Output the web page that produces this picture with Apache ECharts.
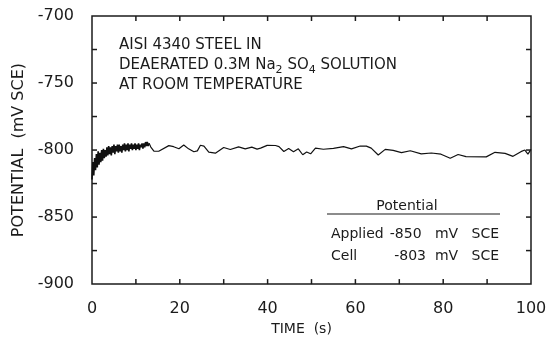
<!DOCTYPE html>
<html>
<head>
<meta charset="utf-8">
<script src="https://cdn.jsdelivr.net/npm/echarts@6/dist/echarts.min.js"></script>
<style>
  html, body { margin: 0; padding: 0; background: #fff; }
  #chart { width: 551px; height: 341px; }
</style>
</head>
<body>
<div id="chart"></div>
<script>
// Open-circuit potential transient of AISI 4340 steel, 0-100 s.

// Early, rapidly fluctuating record (0-13 s)
const noiseTime = [
  0.0, 0.2, 0.4, 0.6, 0.8, 1.0, 1.2, 1.4, 1.6, 1.8,
  2.0, 2.2, 2.4, 2.6, 2.8, 3.0, 3.2, 3.4, 3.6, 3.8,
  4.0, 4.2, 4.4, 4.6, 4.8, 5.0, 5.2, 5.4, 5.6, 5.8,
  6.0, 6.2, 6.4, 6.6, 6.8, 7.0, 7.2, 7.4, 7.6, 7.8,
  8.0, 8.2, 8.4, 8.6, 8.8, 9.0, 9.2, 9.4, 9.6, 9.8,
  10.0, 10.2, 10.4, 10.6, 10.8, 11.0, 11.2, 11.4, 11.6, 11.8,
  12.0, 12.2, 12.4, 12.6, 12.8, 13.0
];
const noisePotential = [
  -822, -809, -819, -806, -815, -803, -813, -801, -811, -802,
  -809, -800, -808, -799, -806, -800, -805, -798, -804, -797,
  -803, -798, -804, -797, -802, -796, -803, -797, -801, -796,
  -802, -796, -801, -797, -802, -796, -800, -795, -801, -796,
  -800, -795, -801, -796, -799, -795, -800, -796, -799, -795,
  -800, -796, -799, -795, -800, -796, -798, -795, -799, -795,
  -798, -794, -797, -794, -797, -795
];

// Later, slowly wandering record (13-100 s)
const waveTime = [
  13.4, 14.1, 15.2, 17.5, 18.6, 19.8, 20.9, 22.0, 23.2, 24.0,
  24.7, 25.5, 26.6, 28.1, 30.0, 31.5, 33.4, 34.9, 36.4, 37.6,
  38.4, 39.9, 41.8, 42.6, 43.7, 44.8, 45.9, 47.0, 48.0, 48.9,
  49.8, 50.9, 52.7, 55.0, 57.3, 59.1, 61.1, 62.5, 63.6, 65.2,
  66.8, 68.6, 70.5, 72.5, 75.0, 77.3, 79.5, 81.6, 83.4, 85.2,
  89.8, 91.8, 94.1, 95.9, 97.7, 98.6, 99.3, 100.0
];
const wavePotential = [
  -797.8, -800.8, -800.9, -796.7, -797.5, -799.0, -796.2, -799.1, -801.3, -800.6,
  -796.4, -797.1, -801.5, -802.3, -798.1, -799.6, -797.6, -799.1, -797.8, -799.3,
  -798.6, -796.5, -796.6, -797.4, -801.1, -798.9, -801.2, -799.1, -803.5, -801.4,
  -802.8, -798.6, -799.4, -798.8, -797.5, -799.1, -797.0, -797.1, -798.6, -803.7,
  -799.5, -800.3, -801.9, -800.5, -802.8, -802.2, -803.1, -806.1, -803.3, -804.9,
  -805.1, -801.7, -802.5, -804.7, -801.2, -800.0, -803.0, -799.5
];

// Axis tick labels and tick-mark positions
const xTickLabels = [0, 20, 40, 60, 80, 100];
const yTickLabels = [-900, -850, -800, -750, -700];
const xTickMarks = [10, 20, 30, 40, 50, 60, 70, 80, 90];
const yTickMarks = [-875, -850, -825, -800, -775, -750, -725];

// Condition notes and potential table
const conditionLines = ['AISI 4340 STEEL IN', 'DEAERATED 0.3M Na2 SO4 SOLUTION', 'AT ROOM TEMPERATURE'];
const tableTitle = 'Potential';
const potentialRows = [['Applied', '-850   mV   SCE'], ['Cell', '-803  mV   SCE']];

const X_MIN = 0, X_MAX = 100, Y_MIN = -900, Y_MAX = -700;

const noisePoints = noiseTime.map((t, i) => [t, noisePotential[i]]);
const wavePoints = [[noiseTime[noiseTime.length - 1], noisePotential[noisePotential.length - 1]]]
  .concat(waveTime.map((t, i) => [t, wavePotential[i]]));

const ink = '#1b1b1b';
const font = 'DejaVu Sans';
const noteFont = '15px "' + font + '"';
const tableFont = '14px "' + font + '"';

const chart = echarts.init(document.getElementById('chart'), null, { renderer: 'canvas' });

// Inward tick marks on all four sides of the frame, placed through the axes' scales
const tickMarkSeries = {
  type: 'custom', xAxisIndex: 0, yAxisIndex: 0, silent: true, z: 6, clip: false,
  data: [0],
  renderItem: function (params, api) {
    const len = 5;
    const children = [];
    const style = { stroke: ink, lineWidth: 1.5 };
    xTickMarks.forEach(function (v) {
      const b = api.coord([v, Y_MIN]);
      const t = api.coord([v, Y_MAX]);
      children.push({ type: 'line', shape: { x1: b[0], y1: b[1], x2: b[0], y2: b[1] - len }, style: style });
      children.push({ type: 'line', shape: { x1: t[0], y1: t[1], x2: t[0], y2: t[1] + len }, style: style });
    });
    yTickMarks.forEach(function (v) {
      const l = api.coord([X_MIN, v]);
      const r = api.coord([X_MAX, v]);
      children.push({ type: 'line', shape: { x1: l[0], y1: l[1], x2: l[0] + len, y2: l[1] }, style: style });
      children.push({ type: 'line', shape: { x1: r[0], y1: r[1], x2: r[0] - len, y2: r[1] }, style: style });
    });
    return { type: 'group', children: children };
  }
};

// Second note line carries the Na2SO4 subscripts
const richLine2 = '{n|DEAERATED 0.3M Na}{s|2}{n| SO}{s|4}{n| SOLUTION}';

const graphics = [
  { type: 'text', x: 119, y: 38, style: { text: conditionLines[0], font: noteFont, fill: ink } },
  {
    type: 'text', x: 119, y: 58,
    style: {
      text: richLine2, fill: ink,
      rich: {
        n: { fontFamily: font, fontSize: 15, color: ink, verticalAlign: 'top', lineHeight: 22 },
        s: { fontFamily: font, fontSize: 11, color: ink, verticalAlign: 'top', lineHeight: 22, padding: [7, 0, 0, 0] }
      }
    }
  },
  { type: 'text', x: 119, y: 78, style: { text: conditionLines[2], font: noteFont, fill: ink } },
  { type: 'text', x: 407, y: 199, style: { text: tableTitle, font: tableFont, fill: ink, textAlign: 'center' } },
  {
    type: 'line',
    shape: { x1: 327, y1: 214, x2: 500, y2: 214 },
    style: { stroke: ink, lineWidth: 1.2 }
  },
  { type: 'text', x: 331, y: 227, style: { text: potentialRows[0][0], font: tableFont, fill: ink } },
  { type: 'text', x: 499, y: 227, style: { text: potentialRows[0][1], font: tableFont, fill: ink, textAlign: 'right' } },
  { type: 'text', x: 331, y: 249, style: { text: potentialRows[1][0], font: tableFont, fill: ink } },
  { type: 'text', x: 499, y: 249, style: { text: potentialRows[1][1], font: tableFont, fill: ink, textAlign: 'right' } }
];

const option = {
  animation: false,
  backgroundColor: '#ffffff',
  grid: {
    left: 92, right: 20, top: 16, bottom: 47,
    show: true, borderColor: ink, borderWidth: 1.5, backgroundColor: 'transparent'
  },
  xAxis: [
    {
      type: 'value', min: X_MIN, max: X_MAX, interval: 10, position: 'bottom',
      name: 'TIME  (s)', nameLocation: 'middle', nameGap: 28,
      nameTextStyle: { fontFamily: font, fontSize: 14, color: ink, padding: [0, 20, 0, 0] },
      axisLine: { show: false }, axisTick: { show: false }, splitLine: { show: false },
      axisLabel: {
        margin: 17, fontFamily: font, fontSize: 16, color: ink,
        formatter: v => xTickLabels.includes(v) ? String(v) : ''
      }
    }
  ],
  yAxis: [
    {
      type: 'value', min: Y_MIN, max: Y_MAX, interval: 25, position: 'left',
      name: 'POTENTIAL  (mV SCE)', nameLocation: 'middle', nameGap: 65,
      nameTextStyle: { fontFamily: font, fontSize: 16, color: ink },
      axisLine: { show: false }, axisTick: { show: false }, splitLine: { show: false },
      axisLabel: {
        margin: 18, fontFamily: font, fontSize: 16, color: ink,
        formatter: v => yTickLabels.includes(v) ? String(v) : ''
      }
    }
  ],
  series: [
    {
      name: 'early', type: 'line', xAxisIndex: 0, yAxisIndex: 0,
      data: noisePoints, showSymbol: false, symbol: 'none',
      lineStyle: { color: '#111', width: 1.6 }
    },
    {
      name: 'late', type: 'line', xAxisIndex: 0, yAxisIndex: 0,
      data: wavePoints, showSymbol: false, symbol: 'none',
      lineStyle: { color: '#111', width: 1.2 }
    },
    tickMarkSeries
  ],
  graphic: graphics
};

chart.setOption(option);
</script>
</body>
</html>
